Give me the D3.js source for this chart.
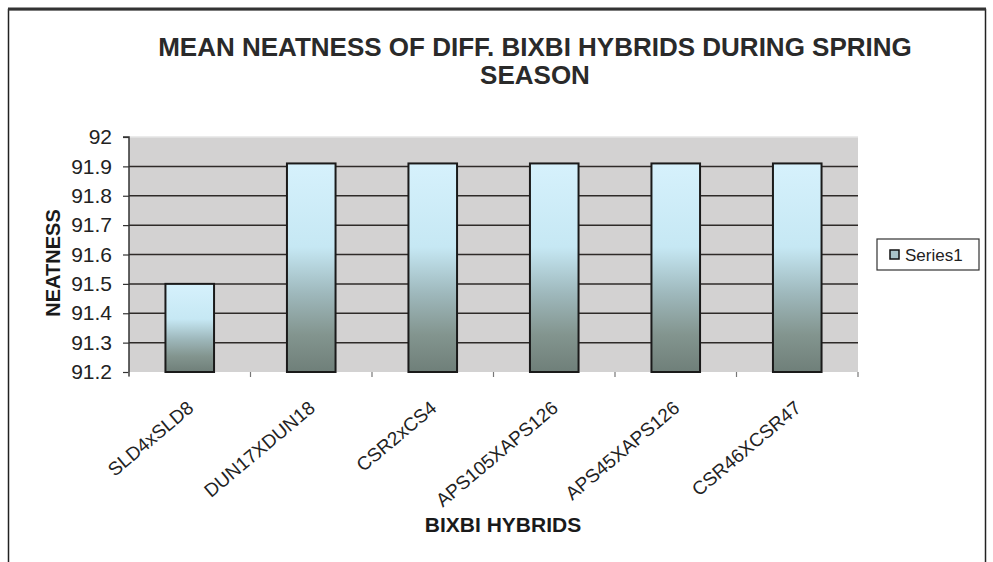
<!DOCTYPE html>
<html>
<head>
<meta charset="utf-8">
<script src="https://cdn.jsdelivr.net/npm/d3@7"></script>
<style>
  html, body { margin: 0; padding: 0; background: #fff; }
  svg { display: block; font-family: "Liberation Sans", Arial, sans-serif; }
</style>
</head>
<body>
<svg id="chart" width="993" height="562"></svg>
<script>
// Hybrid names and their mean neatness scores
const categories = ["SLD4xSLD8", "DUN17XDUN18", "CSR2xCS4", "APS105XAPS126", "APS45XAPS126", "CSR46XCSR47"];
const values = [91.5, 91.91, 91.91, 91.91, 91.91, 91.91];
const yTicks = [91.2, 91.3, 91.4, 91.5, 91.6, 91.7, 91.8, 91.9, 92];
const seriesName = "Series1";

const svg = d3.select("#chart");

// outer frame
svg.append("rect").attr("x", 8.5).attr("y", 9.5).attr("width", 977).attr("height", 570)
  .attr("fill", "#fff").attr("stroke", "#222").attr("stroke-width", 1.5);
svg.append("line").attr("x1", 8).attr("x2", 986).attr("y1", 9).attr("y2", 9)
  .attr("stroke", "#333").attr("stroke-width", 3);

const plot = { left: 129, right: 858, top: 137, bottom: 372 };

const xBand = d3.scaleBand().domain(categories).range([plot.left, plot.right]);
const y = d3.scaleLinear().domain([91.2, 92]).range([plot.bottom, plot.top]);
const barW = xBand.bandwidth() * 0.4;

// vertical gradient used by every bar
const defs = svg.append("defs");
const grad = defs.append("linearGradient").attr("id", "barGrad")
  .attr("x1", 0).attr("y1", 0).attr("x2", 0).attr("y2", 1);
[[0, "#d6f1fc"], [0.4, "#c6e8f4"], [0.62, "#9fb9bd"], [0.82, "#83958f"], [1, "#6f7f79"]]
  .forEach(([o, c]) => grad.append("stop").attr("offset", o).attr("stop-color", c));

// plot background
svg.append("rect").attr("x", plot.left).attr("y", plot.top)
  .attr("width", plot.right - plot.left).attr("height", plot.bottom - plot.top)
  .attr("fill", "#d3d2d2");

// gridlines
svg.append("g").selectAll("line").data(yTicks.filter(t => t > 91.2 && t < 92)).join("line")
  .attr("x1", plot.left).attr("x2", plot.right)
  .attr("y1", d => y(d)).attr("y2", d => y(d))
  .attr("stroke", "#2e2a28").attr("stroke-width", 1.5);
svg.append("line").attr("x1", plot.left).attr("x2", plot.right)
  .attr("y1", plot.top).attr("y2", plot.top).attr("stroke", "#e4e4e4").attr("stroke-width", 1.5);

// bars
svg.append("g").selectAll("rect").data(categories).join("rect")
  .attr("x", d => xBand(d) + xBand.bandwidth() / 2 - barW / 2)
  .attr("width", barW)
  .attr("y", (d, i) => y(values[i]))
  .attr("height", (d, i) => y(91.2) - y(values[i]))
  .attr("fill", "url(#barGrad)")
  .attr("stroke", "#1a1a1a").attr("stroke-width", 2);

// y axis
const yAxis = svg.append("g").attr("transform", `translate(${plot.left},0)`)
  .call(d3.axisLeft(y).tickValues(yTicks).tickSize(6).tickPadding(11).tickFormat(d3.format("")));
yAxis.select(".domain").attr("stroke", "#333").attr("stroke-width", 1.5).attr("d", `M-6,${plot.top}H0V${plot.bottom + 4}`);
yAxis.selectAll(".tick line").attr("stroke", "#333").attr("stroke-width", 1.2);
yAxis.selectAll(".tick text").attr("font-size", 21).attr("fill", "#222")
  .attr("font-family", "Liberation Sans, Arial, sans-serif");

// x axis ticks at band boundaries
svg.append("g").selectAll("line").data(d3.range(categories.length + 1)).join("line")
  .attr("x1", i => plot.left + i * xBand.step()).attr("x2", i => plot.left + i * xBand.step())
  .attr("y1", plot.bottom).attr("y2", plot.bottom + 5)
  .attr("stroke", "#777").attr("stroke-width", 1.2);

// category labels, slanted
svg.append("g").selectAll("text").data(categories).join("text")
  .attr("transform", d => `translate(${xBand(d) + xBand.bandwidth() / 2 + 5},${plot.bottom + 38}) rotate(-40)`)
  .attr("text-anchor", "end")
  .attr("font-size", 19).attr("fill", "#222")
  .text(d => d);

// axis titles
svg.append("text").attr("x", 503).attr("y", 532).attr("text-anchor", "middle")
  .attr("font-size", 21).attr("font-weight", "bold").attr("fill", "#1a1a1a").text("BIXBI HYBRIDS");
svg.append("text").attr("transform", "translate(60,263) rotate(-90)").attr("text-anchor", "middle")
  .attr("font-size", 20).attr("font-weight", "bold").attr("fill", "#1a1a1a").text("NEATNESS");

// chart title
const title = svg.append("text").attr("text-anchor", "middle").attr("font-size", 26)
  .attr("font-weight", "bold").attr("fill", "#2a2a2a");
title.append("tspan").attr("x", 535).attr("y", 56).text("MEAN NEATNESS OF DIFF. BIXBI HYBRIDS DURING SPRING");
title.append("tspan").attr("x", 535).attr("y", 84).text("SEASON");

// legend
const lg = svg.append("g").attr("transform", "translate(877,239)");
lg.append("rect").attr("width", 102).attr("height", 31).attr("fill", "#fff").attr("stroke", "#333").attr("stroke-width", 1.2);
lg.append("rect").attr("x", 13).attr("y", 11).attr("width", 9).attr("height", 9)
  .attr("fill", "#a9c3c8").attr("stroke", "#111").attr("stroke-width", 1.5);
lg.append("text").attr("x", 28).attr("y", 22).attr("font-size", 17).attr("fill", "#222").text(seriesName);
</script>
</body>
</html>
